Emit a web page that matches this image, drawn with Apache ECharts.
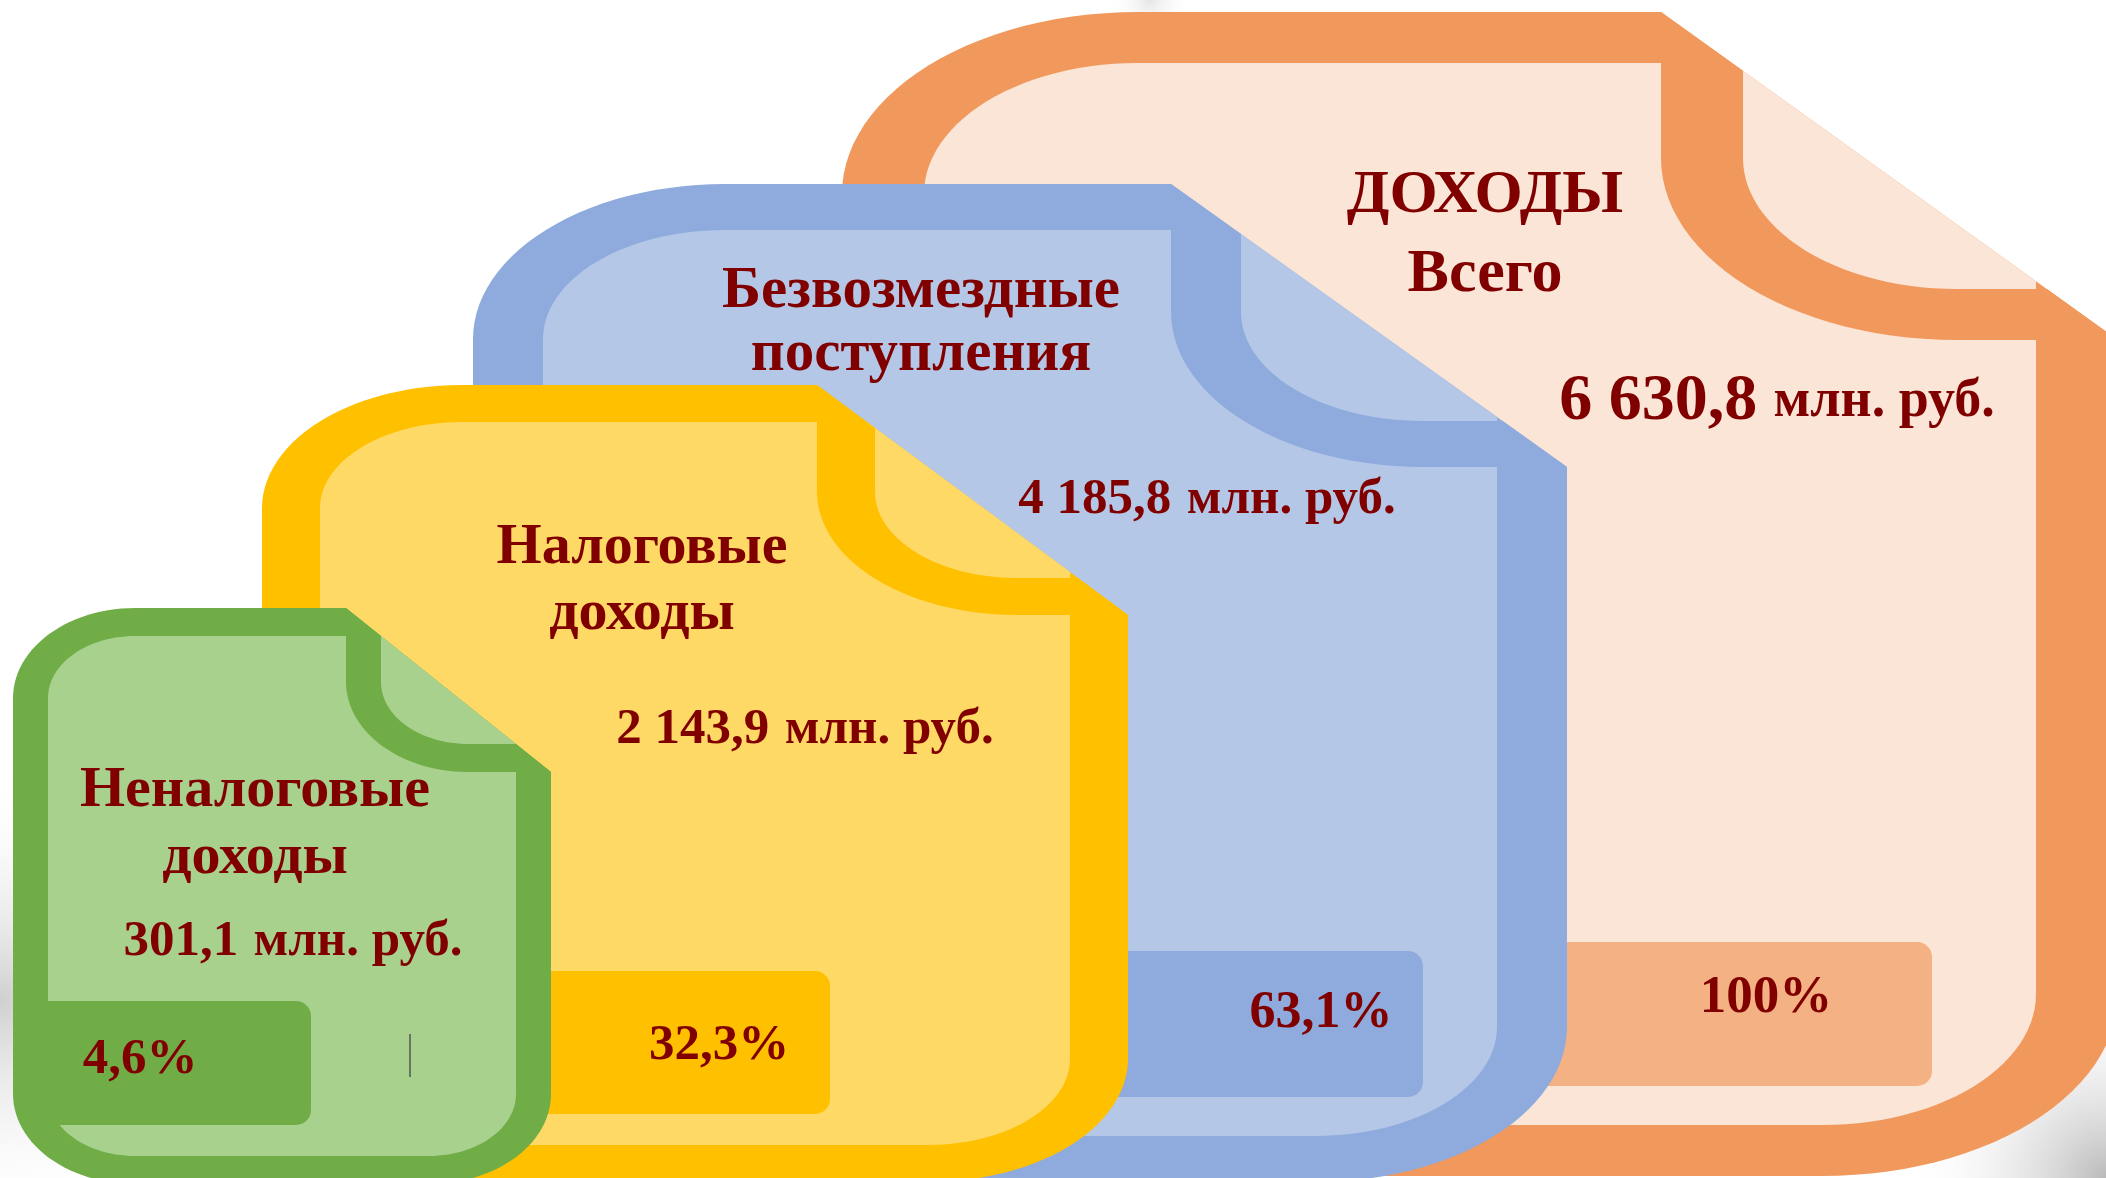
<!DOCTYPE html>
<html>
<head>
<meta charset="utf-8">
<title>Доходы</title>
<style>
html,body{margin:0;padding:0;background:#fff;}
#main{width:2106px;height:1178px;}
</style>
<script src="https://cdn.jsdelivr.net/npm/echarts@6/dist/echarts.min.js"></script>
</head>
<body>
<div id="main"></div>
<script>
// данные
var names = ['Неналоговые\nдоходы', 'Налоговые\nдоходы', 'Безвозмездные\nпоступления', 'ДОХОДЫ\nВсего'];
var amounts = [301.1, 2143.9, 4185.8, 6630.8];
var shares = [4.6, 32.3, 63.1, 100];
var unit = 'млн. руб.';

// раскладка документов (в пикселях макета)
var docBox = [[13, 608, 551, 1184], [262, 385, 1128, 1182], [473, 184, 1567, 1182], [842, 12, 2118, 1176]];
var docFold = [[346, 772], [817, 615], [1171, 467], [1661, 340]];
var docBorder = [[35, 28], [58, 37], [70, 46], [82, 51]];
var docRadius = [[122, 90], [200, 123], [252, 155], [296, 182]];
var pctBox = [[48, 1001, 311, 1125], [318, 971, 830, 1114], [543, 951, 1423, 1097], [924, 942, 1932, 1086]];
var titlePos = [[255, 791, 67], [642, 548, 66], [921, 292, 63], [1485, 196, 79]];
var titleSize = [58, 58, 59, 62];
var amountPos = [[293, 942], [805, 730], [1207, 500], [1777, 402]];
var amountSize = [[51, 51], [51, 51], [51, 51], [66, 54]];
var pctPos = [[140, 1060], [719, 1046], [1321, 1014], [1766, 998]];
var pctSize = [51, 51, 52, 53];
var lineCol = ['#70AD47', '#FFC000', '#8FAADC', '#F1995D'];
var fillCol = ['#A9D18E', '#FFD966', '#B4C7E7', '#FBE5D6'];
var boxCol = ['#70AD47', '#FFC000', '#8FAADC', '#F4B183'];
var textCol = '#800000';
var FONT = '"Liberation Serif", "DejaVu Serif", serif';

function fmtNum(v) {
	var s = v.toFixed(1).split('.');
	return s[0].replace(/\B(?=(\d{3})+(?!\d))/g, ' ') + ',' + s[1];
}
function fmtPct(v) {
	return (v % 1 === 0 ? String(v) : v.toFixed(1).replace('.', ',')) + '%';
}

function arc(pts, cx, cy, rx, ry, a0, a1) {
	var n = 28;
	for (var s = 0; s <= n; s++) {
		var a = a0 + (a1 - a0) * s / n;
		pts.push([cx + rx * Math.cos(a), cy + ry * Math.sin(a)]);
	}
}

// контур листа со срезанным углом
function sheet(L, T, R, B, rx, ry, xTop, yRight) {
	var p = [];
	arc(p, L + rx, T + ry, rx, ry, Math.PI, Math.PI * 1.5);
	p.push([xTop, T]);
	p.push([R, yRight]);
	arc(p, R - rx, B - ry, rx, ry, 0, Math.PI / 2);
	arc(p, L + rx, B - ry, rx, ry, Math.PI / 2, Math.PI);
	return p;
}

function renderDoc(params, api) {
	var i = api.value(0);
	var b = docBox[i], L = b[0], T = b[1], R = b[2], B = b[3];
	var FX = docFold[i][0], FY = docFold[i][1];
	var bx = docBorder[i][0], by = docBorder[i][1];
	var rx = docRadius[i][0], ry = docRadius[i][1];
	var k = (FY - T) / (R - FX);
	var map = function (pts) { return pts.map(function (q) { return api.coord(q); }); };

	var outer = sheet(L, T, R, B, rx, ry, FX, FY);
	var inner = sheet(L + bx, T + by, R - bx, B - by, rx - bx, ry - by, FX + by / k, FY - k * bx);

	// загнутый уголок
	var band = [[FX, T]];
	arc(band, FX + rx, FY - ry, rx, ry, Math.PI, Math.PI / 2);
	band.push([R, FY]);
	band.push([R - by / k, FY - by]);
	arc(band, FX + rx, FY - ry, rx - bx, ry - by, Math.PI / 2, Math.PI);
	band.push([FX + bx, T + k * bx]);

	var pb = pctBox[i];
	var p0 = api.coord([pb[0], pb[1]]), p1 = api.coord([pb[2], pb[3]]);

	var children = [
		{type: 'polygon', shape: {points: map(outer)}, style: {fill: lineCol[i]}},
		{type: 'polygon', shape: {points: map(inner)}, style: {fill: fillCol[i]}},
		{type: 'polygon', shape: {points: map(band)}, style: {fill: lineCol[i]}},
		{type: 'rect', shape: {x: p0[0], y: p0[1], width: p1[0] - p0[0], height: p1[1] - p0[1], r: [0, 15, 15, 0]},
			style: {fill: boxCol[i]}}
	];

	var lines = names[i].split('\n');
	for (var j = 0; j < lines.length; j++) {
		var tp = api.coord([titlePos[i][0], titlePos[i][1] + j * titlePos[i][2]]);
		children.push({type: 'text', style: {
			text: lines[j], x: tp[0], y: tp[1], fill: textCol, align: 'center', verticalAlign: 'middle',
			fontFamily: FONT, fontWeight: 'bold', fontSize: titleSize[i]
		}});
	}

	var ap = api.coord(amountPos[i]);
	children.push({type: 'text', style: {
		text: '{n|' + fmtNum(amounts[i]) + '}{s| }{u|' + unit + '}', x: ap[0], y: ap[1],
		align: 'center', verticalAlign: 'middle',
		rich: {
			n: {fill: textCol, fontFamily: FONT, fontWeight: 'bold', fontSize: amountSize[i][0]},
			s: {fill: textCol, fontFamily: FONT, fontWeight: 'bold', fontSize: amountSize[i][1], width: amountSize[i][1] * 0.3},
			u: {fill: textCol, fontFamily: FONT, fontWeight: 'bold', fontSize: amountSize[i][1]}
		}
	}});

	var pp = api.coord(pctPos[i]);
	children.push({type: 'text', style: {
		text: fmtPct(shares[i]), x: pp[0], y: pp[1], fill: textCol, align: 'center', verticalAlign: 'middle',
		fontFamily: FONT, fontWeight: 'bold', fontSize: pctSize[i]
	}});

	if (i === 0) {
		// курсор, оставшийся на слайде
		var c0 = api.coord([410, 1034]), c1 = api.coord([410, 1077]);
		children.push({type: 'line', shape: {x1: c0[0], y1: c0[1], x2: c1[0], y2: c1[1]}, style: {stroke: '#555', lineWidth: 1.5}});
	}
	return {type: 'group', children: children};
}

var myChart = echarts.init(document.getElementById('main'));
var option = {
	backgroundColor: '#ffffff',
	animation: false,
	grid: {left: 0, right: 0, top: 0, bottom: 0},
	xAxis: {type: 'value', min: 0, max: 2106, show: false},
	yAxis: {type: 'value', min: 0, max: 1178, inverse: true, show: false},
	graphic: [
		{type: 'circle', z: -10, shape: {cx: 0, cy: 1000, r: 230},
			style: {fill: {type: 'radial', x: 0.5, y: 0.5, r: 0.5, colorStops: [{offset: 0, color: 'rgba(150,150,150,0.45)'}, {offset: 1, color: 'rgba(255,255,255,0)'}]}}},
		{type: 'circle', z: -10, shape: {cx: 2106, cy: 1178, r: 200},
			style: {fill: {type: 'radial', x: 0.5, y: 0.5, r: 0.5, colorStops: [{offset: 0, color: 'rgba(140,140,140,0.6)'}, {offset: 1, color: 'rgba(255,255,255,0)'}]}}},
		{type: 'ellipse', z: -10, shape: {cx: 1150, cy: 0, rx: 260, ry: 40},
			style: {fill: {type: 'radial', x: 0.5, y: 0.5, r: 0.5, colorStops: [{offset: 0, color: 'rgba(180,180,180,0.35)'}, {offset: 1, color: 'rgba(255,255,255,0)'}]}}}
	],
	series: [{
		type: 'custom',
		coordinateSystem: 'cartesian2d',
		silent: true,
		clip: false,
		renderItem: renderDoc,
		data: [[3, 0], [2, 0], [1, 0], [0, 0]]
	}]
};
myChart.setOption(option);
window.addEventListener('resize', function () { myChart.resize(); }, false);
</script>
</body>
</html>
